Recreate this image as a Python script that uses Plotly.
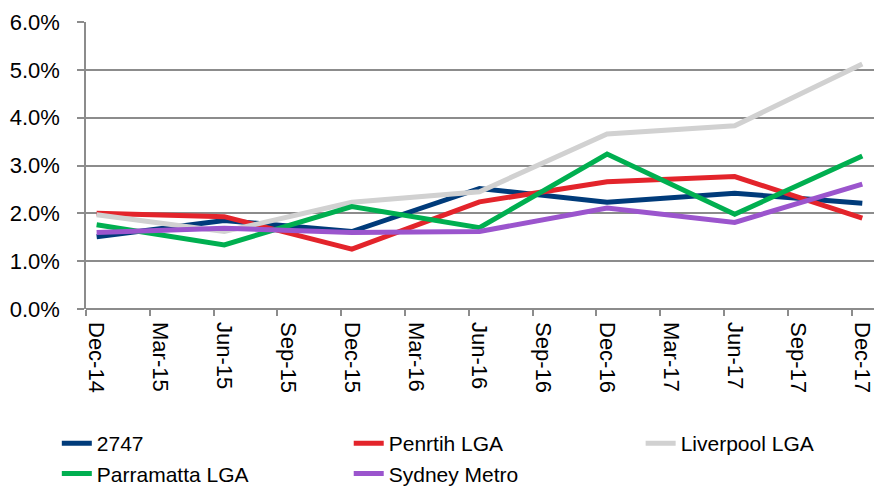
import plotly.graph_objects as go

# Quarterly axis labels (month index 0 = Dec-14)
quarter_labels = ["Dec-14", "Mar-15", "Jun-15", "Sep-15", "Dec-15", "Mar-16", "Jun-16",
                  "Sep-16", "Dec-16", "Mar-17", "Jun-17", "Sep-17", "Dec-17"]
quarter_months = [0, 3, 6, 9, 12, 15, 18, 21, 24, 27, 30, 33, 36]

# Half-yearly observations (months since Dec-14)
obs_months = [0, 6, 12, 18, 24, 30, 36]

# Vacancy rates (fractions)
pc_2747 = [0.0151, 0.0185, 0.0162, 0.0252, 0.0223, 0.0242, 0.0221]
penrith = [0.0200, 0.0193, 0.0125, 0.0224, 0.0266, 0.0277, 0.0190]
liverpool = [0.0197, 0.0162, 0.0223, 0.0245, 0.0366, 0.0383, 0.0512]
parramatta = [0.0176, 0.0134, 0.0214, 0.0170, 0.0324, 0.0198, 0.0320]
sydney_metro = [0.0160, 0.0169, 0.0160, 0.0162, 0.0211, 0.0181, 0.0261]

# name, values, colour, legend column
series = [
    ("2747", pc_2747, "#003B7A", "legend"),
    ("Penrtih LGA", penrith, "#E3242B", "legend2"),
    ("Liverpool LGA", liverpool, "#D1D1D1", "legend3"),
    ("Parramatta LGA", parramatta, "#00AF50", "legend"),
    ("Sydney Metro", sydney_metro, "#9B55CD", "legend2"),
]

FONT = "Liberation Sans, Arial, sans-serif"
AXIS_GREY = "#8C8C8C"

fig = go.Figure()
for name, vals, color, leg in series:
    fig.add_trace(go.Scatter(
        x=obs_months, y=vals, name=name, mode="lines",
        line=dict(color=color, width=5),
        legend=leg, legendgroup=name,
    ))


def legend_column(x):
    return dict(
        orientation="v",
        xref="container", x=x, xanchor="left",
        yref="container", y=1 - 423 / 486, yanchor="top",
        font=dict(family=FONT, size=21, color="black"),
        bgcolor="rgba(0,0,0,0)",
        traceorder="grouped", tracegroupgap=0,
    )


fig.update_layout(
    width=874, height=486,
    margin=dict(l=86, r=0, t=22, b=177, autoexpand=False),
    paper_bgcolor="white", plot_bgcolor="white",
    font=dict(family=FONT, size=22, color="black"),
    showlegend=True,
    legend=legend_column(0.065),
    legend2=legend_column(0.399),
    legend3=legend_column(0.733),
)

fig.update_xaxes(
    range=[-0.5, 36.55], automargin=False,
    tickmode="array", tickvals=quarter_months, ticktext=quarter_labels,
    tickangle=90, ticks="", showgrid=False,
    showline=False, zeroline=False,
    ticklabeloverflow="allow", ticklabelstandoff=12,
    minor=dict(
        tickmode="array",
        tickvals=[m - 0.5 for m in quarter_months],
        ticks="outside", ticklen=6, tickwidth=1.5, tickcolor=AXIS_GREY,
        showgrid=False,
    ),
    tickfont=dict(family=FONT, size=22, color="black"),
)

fig.update_yaxes(
    range=[0, 0.06], dtick=0.01, tickformat=".1%", automargin=False,
    showgrid=True, gridcolor=AXIS_GREY, gridwidth=1.5,
    showline=True, linecolor=AXIS_GREY, linewidth=1.5,
    ticks="outside", ticklen=7, tickwidth=1.5, tickcolor=AXIS_GREY,
    zeroline=True, zerolinecolor=AXIS_GREY, zerolinewidth=1.5,
    ticklabelstandoff=13,
    tickfont=dict(family=FONT, size=22, color="black"),
)

fig.write_html("out.html")
